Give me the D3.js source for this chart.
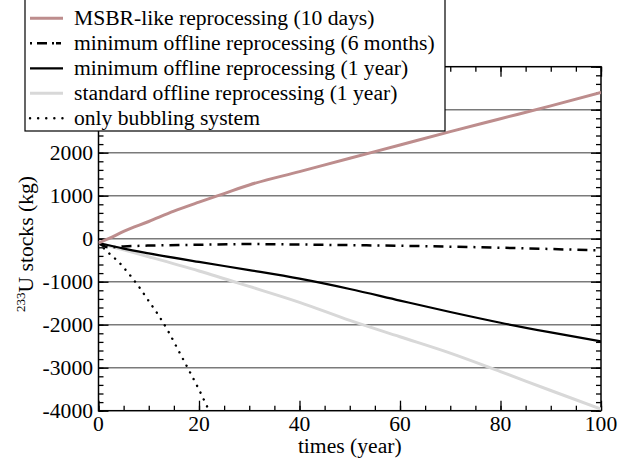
<!DOCTYPE html>
<html><head><meta charset="utf-8">
<script src="https://cdn.jsdelivr.net/npm/d3@7"></script>
<style>
html,body{margin:0;padding:0;background:#fff;}
svg{display:block;}
</style></head>
<body>
<script>
// ---- data ----
const xTickValues = [0, 20, 40, 60, 80, 100];
const xTickLabels = ["0", "20", "40", "60", "80", "100"];
const yTickValues = [-4000, -3000, -2000, -1000, 0, 1000, 2000, 3000, 4000];
const yLabelValues = [-4000, -3000, -2000, -1000, 0, 1000, 2000];
const yTickLabels = ["-4000", "-3000", "-2000", "-1000", "0", "1000", "2000"];

const msbrYears = [0, 2, 5, 10, 15, 20, 25, 30, 40, 50, 60, 70, 80, 90, 100];
const msbrStock = [-100, 0, 170, 400, 640, 850, 1050, 1250, 1560, 1870, 2180, 2490, 2790, 3090, 3400];

const min6Years = [0, 1, 2, 5, 10, 20, 30, 40, 50, 60, 70, 80, 90, 100];
const min6Stock = [-100, -170, -200, -180, -160, -140, -125, -135, -150, -165, -185, -210, -240, -275];

const min1Years = [0, 5, 10, 20, 30, 40, 50, 60, 70, 80, 90, 100];
const min1Stock = [-100, -230, -340, -540, -730, -930, -1170, -1440, -1705, -1955, -2180, -2390];

const stdYears = [0, 5, 10, 20, 30, 40, 50, 60, 70, 80, 90, 100];
const stdStock = [-100, -260, -420, -750, -1110, -1480, -1900, -2280, -2660, -3090, -3530, -3960];

const bubYears = [0, 2, 4, 6, 8, 10, 12, 14, 16, 18, 20, 22];
const bubStock = [-100, -330, -540, -810, -1110, -1450, -1790, -2180, -2620, -3060, -3510, -4000];

const seriesNames = [
  "MSBR-like reprocessing (10 days)",
  "minimum offline reprocessing (6 months)",
  "minimum offline reprocessing (1 year)",
  "standard offline reprocessing (1 year)",
  "only bubbling system"
];

// ---- layout ----
const W = 630, H = 463;
const L = 98.5, R = 601, T = 66.7, B = 410.7;
const FONT = "'Liberation Serif', 'Times New Roman', Times, 'Nimbus Roman', 'DejaVu Serif', serif";
const FS = 21.6;

const svg = d3.select("body").append("svg").attr("width", W).attr("height", H)
  .attr("font-family", FONT);

const x = d3.scaleLinear().domain([0, 100]).range([L, R]);
const y = d3.scaleLinear().domain([-4000, 4000]).range([B, T]);

// grid lines
svg.append("g").selectAll("line").data(yTickValues.filter(v => v > -4000 && v < 4000)).join("line")
  .attr("x1", L).attr("x2", R).attr("y1", d => y(d)).attr("y2", d => y(d))
  .attr("stroke", "#7a7a7a").attr("stroke-width", 1.5);

// axes with inner ticks
const xMinor = d3.range(0, 101, 5);
const yMinor = d3.range(-4000, 4001, 200);

function addAxis(axisGen, tx, ty) {
  const g = svg.append("g").attr("transform", `translate(${tx},${ty})`).call(axisGen);
  g.select(".domain").remove();
  g.selectAll("line").attr("stroke", "#000").attr("stroke-width", 1.3);
  return g;
}
addAxis(d3.axisTop(x).tickValues(xMinor).tickSize(5).tickFormat(""), 0, B);
addAxis(d3.axisTop(x).tickValues(xTickValues).tickSize(10).tickFormat(""), 0, B);
addAxis(d3.axisBottom(x).tickValues(xMinor).tickSize(5).tickFormat(""), 0, T);
addAxis(d3.axisBottom(x).tickValues(xTickValues).tickSize(10).tickFormat(""), 0, T);
addAxis(d3.axisRight(y).tickValues(yMinor).tickSize(5).tickFormat(""), L, 0);
addAxis(d3.axisRight(y).tickValues(yTickValues).tickSize(10).tickFormat(""), L, 0);
addAxis(d3.axisLeft(y).tickValues(yMinor).tickSize(5).tickFormat(""), R, 0);
addAxis(d3.axisLeft(y).tickValues(yTickValues).tickSize(10).tickFormat(""), R, 0);

// tick labels
svg.append("g").selectAll("text").data(xTickValues).join("text")
  .attr("font-family", FONT)
  .attr("x", d => x(d)).attr("y", B + 20).attr("text-anchor", "middle")
  .attr("font-size", FS).text((d, i) => xTickLabels[i]);
svg.append("g").selectAll("text").data(yLabelValues).join("text")
  .attr("font-family", FONT)
  .attr("x", L - 5.5).attr("y", d => y(d) + 7).attr("text-anchor", "end")
  .attr("font-size", FS).text((d, i) => yTickLabels[i]);

// frame
svg.append("rect").attr("x", L).attr("y", T).attr("width", R - L).attr("height", B - T)
  .attr("fill", "none").attr("stroke", "#000").attr("stroke-width", 1.5);

// clip
svg.append("clipPath").attr("id", "clip").append("rect")
  .attr("x", L).attr("y", T).attr("width", R - L).attr("height", B - T);

const styles = [
  {color: "#bd8d8d", width: 3, dash: null},
  {color: "#000", width: 2.5, dash: "10,6,2,6"},
  {color: "#000", width: 2.2, dash: null},
  {color: "#d8d8d8", width: 3, dash: null},
  {color: "#000", width: 2.4, dash: "0.1,7.5"}
];
const seriesData = [
  [msbrYears, msbrStock],
  [min6Years, min6Stock],
  [min1Years, min1Stock],
  [stdYears, stdStock],
  [bubYears, bubStock]
];
const line = d3.line().x(d => x(d[0])).y(d => y(d[1])).curve(d3.curveMonotoneX);
const plotG = svg.append("g").attr("clip-path", "url(#clip)");
[3, 2, 1, 4, 0].forEach(i => {
  const pts = seriesData[i][0].map((t, k) => [t, seriesData[i][1][k]]);
  plotG.append("path").datum(pts).attr("d", line)
    .attr("fill", "none").attr("stroke", styles[i].color)
    .attr("stroke-width", styles[i].width)
    .attr("stroke-dasharray", styles[i].dash)
    .attr("stroke-linecap", i === 4 ? "round" : "butt");
});

// axis titles
svg.append("text").attr("font-family", FONT).attr("x", (L + R) / 2).attr("y", B + 42).attr("text-anchor", "middle")
  .attr("font-size", FS).text("times (year)");
const yl = svg.append("text").attr("font-family", FONT).attr("transform", "translate(33,244) rotate(-90)")
  .attr("text-anchor", "middle").attr("font-size", FS);
yl.append("tspan").attr("font-size", 13).attr("dy", -8).text("233");
yl.append("tspan").attr("dy", 8).text("U stocks (kg)");

// legend
const leg = svg.append("g");
leg.append("rect").attr("x", 25).attr("y", -1).attr("width", 420).attr("height", 132)
  .attr("fill", "#fff").attr("stroke", "#000").attr("stroke-width", 1.2);
const rowY = d3.scalePoint().domain(d3.range(5)).range([18.3, 118.3]);
seriesNames.forEach((name, i) => {
  const yy = rowY(i);
  leg.append("line").attr("x1", 30).attr("x2", 63).attr("y1", yy).attr("y2", yy)
    .attr("stroke", styles[i].color).attr("stroke-width", styles[i].width)
    .attr("stroke-dasharray", i === 1 ? "2,5,10,5,2" : (i === 4 ? "0.1,8" : null))
    .attr("stroke-linecap", i === 4 ? "round" : "butt");
  leg.append("text").attr("font-family", FONT).attr("x", 74).attr("y", yy + 6.5)
    .attr("font-size", FS).text(name);
});
</script>
</body></html>
